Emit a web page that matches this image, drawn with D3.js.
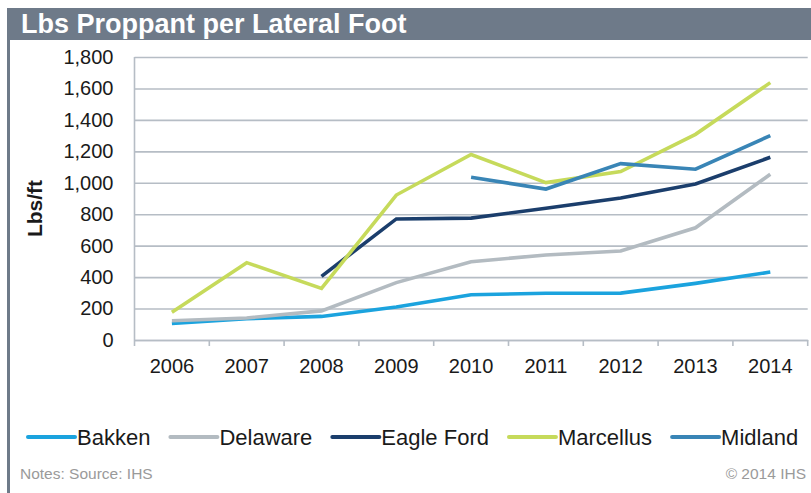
<!DOCTYPE html>
<html>
<head>
<meta charset="utf-8">
<script src="https://cdn.jsdelivr.net/npm/d3@7"></script>
<style>
	body { margin: 0; background: #fff; }
	svg { display: block; font-family: "Liberation Sans", Arial, sans-serif; }
</style>
</head>
<body>
<div id="chart"></div>
<script>
// ---------- DATA ----------
const years = ["2006", "2007", "2008", "2009", "2010", "2011", "2012", "2013", "2014"];
const yTicks = [0, 200, 400, 600, 800, 1000, 1200, 1400, 1600, 1800];
const seriesNames = ["Bakken", "Delaware", "Eagle Ford", "Marcellus", "Midland"];

const bakken = [105, 135, 150, 210, 288, 297, 298, 360, 432];
const delaware = [122, 140, 185, 365, 498, 541, 566, 714, 1054];
const eagleFord = [null, null, 405, 770, 775, 838, 903, 992, 1162];
const marcellus = [176, 492, 328, 922, 1180, 1001, 1071, 1308, 1637];
const midland = [null, null, null, null, 1035, 960, 1122, 1086, 1300];

const seriesColors = ["#1ba3de", "#b3bbc1", "#1b3e6c", "#c6da5b", "#3985b6"];

// ---------- LAYOUT ----------
const size = { w: 811, h: 493 };
const plot = { left: 134.5, right: 807.7, top: 57, bottom: 340 };
const frameColor = "#6e7a89";
const gridColor = "#b6bdc5";

const svg = d3
	.select("#chart")
	.append("svg")
	.attr("width", size.w)
	.attr("height", size.h);

// title bar + left frame
svg.append("rect")
	.attr("x", 7)
	.attr("y", 8)
	.attr("width", size.w - 7)
	.attr("height", 32)
	.attr("fill", frameColor);
svg.append("rect")
	.attr("x", 7)
	.attr("y", 8)
	.attr("width", 3)
	.attr("height", size.h - 8)
	.attr("fill", frameColor);
svg.append("text")
	.attr("x", 21)
	.attr("y", 33)
	.attr("fill", "#fff")
	.attr("font-size", 27)
	.attr("font-weight", "bold")
	.text("Lbs Proppant per Lateral Foot");

// scales
const x = d3.scaleBand().domain(years).range([plot.left, plot.right]);
const y = d3.scaleLinear().domain([0, 1800]).range([plot.bottom, plot.top]);

// y grid + labels
const yAxis = svg
	.append("g")
	.attr("transform", `translate(${plot.left},0)`)
	.call(
		d3.axisLeft(y)
			.tickValues(yTicks)
			.tickFormat(d3.format(","))
			.tickSize(-(plot.right - plot.left))
			.tickPadding(21)
	);
yAxis.select(".domain").remove();
yAxis.selectAll(".tick line").attr("stroke", gridColor).attr("stroke-width", 1.6);
yAxis.selectAll(".tick text")
	.attr("font-size", 20)
	.attr("fill", "#1a1a1a")
	.attr("font-family", "Liberation Sans, Arial, sans-serif");

// left axis line
svg.append("line")
	.attr("x1", plot.left)
	.attr("x2", plot.left)
	.attr("y1", y(1800))
	.attr("y2", y(0))
	.attr("stroke", gridColor)
	.attr("stroke-width", 1.6);

// x axis
const xAxis = svg
	.append("g")
	.attr("transform", `translate(0,${plot.bottom})`)
	.call(d3.axisBottom(x).tickSize(0).tickPadding(19));
xAxis.select(".domain").attr("stroke", gridColor).attr("stroke-width", 1.6);
xAxis.selectAll(".tick text")
	.attr("font-size", 20)
	.attr("fill", "#1a1a1a")
	.attr("font-family", "Liberation Sans, Arial, sans-serif");

// tick marks between categories
const boundaries = years.map((d) => x(d)).concat([x(years[years.length - 1]) + x.bandwidth()]);
svg.append("g")
	.selectAll("line")
	.data(boundaries)
	.enter()
	.append("line")
	.attr("x1", (d) => d)
	.attr("x2", (d) => d)
	.attr("y1", plot.bottom)
	.attr("y2", plot.bottom + 6)
	.attr("stroke", gridColor)
	.attr("stroke-width", 1.6);

// y axis title
svg.append("text")
	.attr("transform", `translate(42,${(plot.top + plot.bottom) / 2 + 10}) rotate(-90)`)
	.attr("text-anchor", "middle")
	.attr("font-size", 21)
	.attr("font-weight", "bold")
	.attr("fill", "#1a1a1a")
	.text("Lbs/ft");

// lines
const allSeries = [bakken, delaware, eagleFord, marcellus, midland];
const line = d3
	.line()
	.defined((d) => d != null)
	.x((d, i) => x(years[i]) + x.bandwidth() / 2)
	.y((d) => y(d));

svg.append("g")
	.selectAll("path")
	.data(allSeries)
	.enter()
	.append("path")
	.attr("d", (d) => line(d))
	.attr("fill", "none")
	.attr("stroke", (d, i) => seriesColors[i])
	.attr("stroke-width", 3.6)
	.attr("stroke-linejoin", "miter");

// legend
const legend = svg.append("g").attr("transform", "translate(0,437)");
let lx = 28;
seriesNames.forEach((name, i) => {
	legend.append("line")
		.attr("x1", lx)
		.attr("x2", lx + 47)
		.attr("stroke", seriesColors[i])
		.attr("stroke-width", 4)
		.attr("stroke-linecap", "round");
	const t = legend.append("text")
		.attr("x", lx + 49)
		.attr("y", 8)
		.attr("font-size", 22)
		.attr("fill", "#1a1a1a")
		.text(name);
	lx += 49 + t.node().getComputedTextLength() + 20;
});

// footer
svg.append("text")
	.attr("x", 20)
	.attr("y", 479)
	.attr("font-size", 15.5)
	.attr("fill", "#9a9a9a")
	.text("Notes: Source: IHS");
svg.append("text")
	.attr("x", 806)
	.attr("y", 479)
	.attr("text-anchor", "end")
	.attr("font-size", 15.5)
	.attr("fill", "#9a9a9a")
	.text("© 2014 IHS");
</script>
</body>
</html>
